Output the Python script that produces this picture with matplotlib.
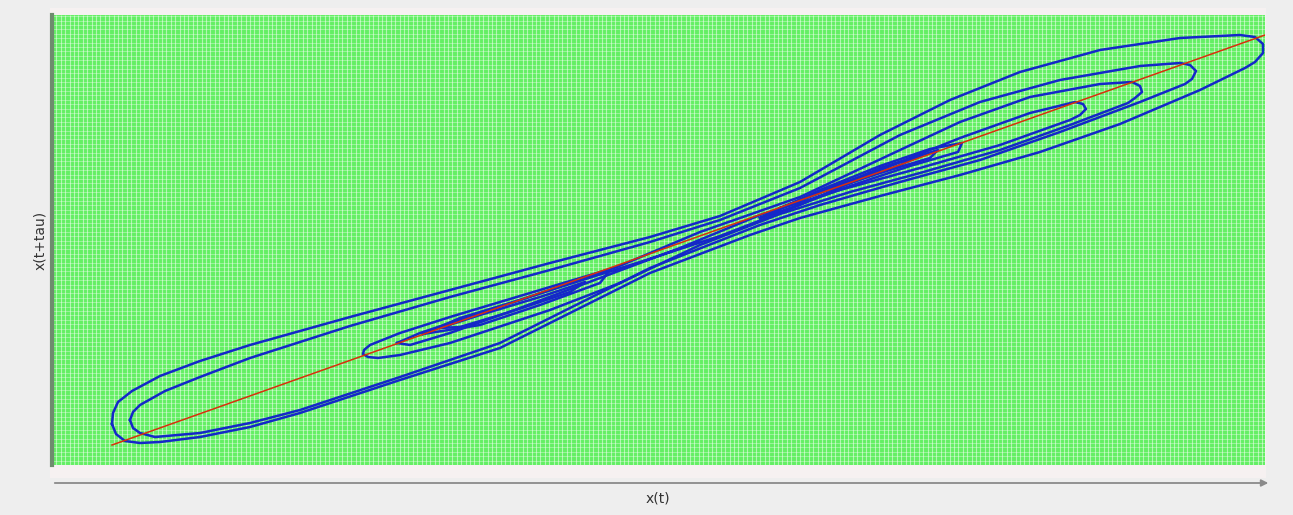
# Delay embedding plot: x(t) vs x(t+tau)

import numpy as np
import matplotlib.pyplot as plt
from matplotlib.patches import Rectangle

# diagonal x(t+tau) = x(t)
diag_x = [11.2, 126.5]
diag_y = [3.5, 44.5]

# trajectory loops (x(t), x(t+tau))
loop1_x = [11.2, 11.3, 11.8, 13.2, 16.0, 20.0, 25.0, 30.0, 35.0, 45.0, 55.0, 65.0, 72.0, 80.0, 88.0,
           95.0, 102.0, 110.0, 118.0, 124.0, 125.5, 126.3, 126.3, 125.5, 124.5, 120.0, 112.0, 104.0,
           96.0, 88.0, 80.0, 75.0, 65.0, 55.0, 50.0, 40.0, 30.0, 25.0, 20.0, 16.0, 14.0, 12.5, 11.6, 11.2]
loop1_y = [5.6, 6.7, 7.8, 8.9, 10.4, 11.9, 13.5, 14.9, 16.3, 19.0, 21.7, 24.3, 26.4, 29.8, 34.5,
           38.0, 40.8, 43.0, 44.2, 44.5, 44.3, 43.6, 42.7, 41.8, 41.2, 39.0, 35.6, 32.8,
           30.5, 28.4, 26.2, 24.5, 20.7, 15.7, 13.2, 10.0, 6.7, 5.3, 4.3, 3.8, 3.7, 3.9, 4.6, 5.6]

loop2_x = [13.0, 13.3, 14.0, 16.5, 20.0, 25.0, 30.0, 35.0, 45.0, 55.0, 65.0, 72.0, 80.0, 90.0, 98.0,
           106.0, 114.0, 118.0, 119.0, 119.6, 119.2, 118.5, 114.0, 106.0, 98.0, 90.0, 82.0, 76.0,
           65.0, 55.0, 50.0, 40.0, 30.0, 25.0, 20.0, 15.5, 14.0, 13.3, 13.0]
loop2_y = [6.0, 6.8, 7.5, 8.9, 10.3, 12.2, 13.8, 15.4, 18.3, 21.0, 23.8, 26.0, 29.2, 34.5, 37.8,
           40.0, 41.4, 41.7, 41.5, 40.9, 40.1, 39.6, 37.8, 34.8, 32.0, 29.8, 27.5, 25.5,
           21.2, 16.2, 13.7, 10.3, 7.0, 5.7, 4.7, 4.3, 4.7, 5.2, 6.0]

loop3_x = [62.0, 70.0, 78.0, 85.0, 92.0, 100.0, 107.0, 112.8, 113.5, 114.2, 114.0, 113.2, 110.0,
           103.0, 96.0, 90.0, 80.0, 70.0, 61.7, 55.0, 45.0, 40.0, 37.0, 36.4, 36.3, 36.8, 37.8,
           40.0, 45.0, 55.0, 62.0]
loop3_y = [19.7, 23.5, 26.6, 28.8, 30.7, 33.0, 35.5, 37.7, 38.2, 38.8, 39.4, 39.8, 39.6,
           38.3, 35.8, 33.0, 28.3, 24.8, 21.3, 19.3, 16.3, 14.7, 13.5, 13.0, 12.6, 12.3, 12.2,
           12.5, 13.7, 17.0, 19.7]

loop4_x = [39.7, 42.0, 48.0, 56.0, 64.0, 72.0, 80.0, 88.0, 96.0, 103.0, 107.5, 108.3, 108.6, 108.0,
           107.0, 100.0, 92.0, 84.0, 76.0, 68.0, 60.0, 52.0, 45.0, 41.0, 39.7]
loop4_y = [13.7, 14.7, 16.7, 19.3, 21.8, 24.4, 27.5, 31.0, 34.2, 36.7, 37.8, 37.6, 37.1, 36.5,
           36.0, 33.5, 31.2, 29.0, 26.5, 23.2, 20.2, 17.2, 14.7, 13.5, 13.7]

small_left1_x = [42.3, 46.0, 52.0, 58.0, 61.0, 60.0, 54.0, 48.0, 42.3]
small_left1_y = [14.6, 16.2, 18.0, 20.0, 21.0, 19.7, 17.5, 15.5, 14.6]
small_left2_x = [44.0, 48.0, 54.0, 58.5, 57.0, 51.0, 46.0, 44.0]
small_left2_y = [15.2, 16.5, 18.3, 19.8, 18.8, 16.8, 15.3, 15.2]

small_right1_x = [76.0, 82.0, 88.0, 93.0, 96.2, 95.8, 91.0, 85.0, 79.0, 76.0]
small_right1_y = [26.2, 29.0, 31.4, 33.1, 33.7, 32.8, 31.4, 29.4, 27.2, 26.2]
small_right2_x = [78.0, 84.0, 90.0, 93.8, 93.0, 88.0, 82.0, 78.0]
small_right2_y = [27.2, 29.6, 31.8, 33.0, 32.2, 30.7, 28.7, 27.2]
small_right3_x = [83.0, 88.0, 92.2, 90.0, 85.0, 83.0]
small_right3_y = [29.0, 31.2, 32.5, 31.5, 29.7, 29.0]

loops = [(loop1_x, loop1_y), (loop2_x, loop2_y), (loop3_x, loop3_y), (loop4_x, loop4_y),
         (small_left1_x, small_left1_y), (small_left2_x, small_left2_y),
         (small_right1_x, small_right1_y), (small_right2_x, small_right2_y),
         (small_right3_x, small_right3_y)]

fig = plt.figure(figsize=(12.93, 5.15), dpi=100, facecolor='#eeeeee')

# pale strip behind the plot area
fig.patches.append(Rectangle((50 / 1293, (515 - 478) / 515), 1216 / 1293, 470 / 515,
                             transform=fig.transFigure, facecolor='#f6f1f1',
                             edgecolor='none', zorder=-5))

ax = fig.add_axes([52 / 1293, 50 / 515, 1213 / 1293, 450 / 515])
ax.set_zorder(2)
ax.set_facecolor('#64ef64')
ax.set_xlim(5.2, 126.5)
ax.set_ylim(1.5, 46.5)

# dotted-looking background grid
step = 0.44
ax.vlines(np.arange(5.2, 126.5, step), 1.5, 46.5, colors='white', linewidth=0.8, alpha=0.5, zorder=0.5)
ax.hlines(np.arange(1.5, 46.5, step), 5.2, 126.5, colors='white', linewidth=0.6, alpha=0.4, zorder=0.5)

for lx, ly in loops:
    ax.plot(lx, ly, color='#1428c8', linewidth=1.8, solid_joinstyle='round', zorder=2)

ax.plot(diag_x, diag_y, color='#d8300c', linewidth=1.1, zorder=3)

for side in ['top', 'right', 'bottom']:
    ax.spines[side].set_visible(False)
ax.spines['left'].set_color('#6e8c6e')
ax.spines['left'].set_linewidth(3)
ax.set_xticks([])
ax.set_yticks([])

# x axis arrow below the plot
ax.annotate('', xy=(1.005, -0.04), xytext=(0.0, -0.04), xycoords='axes fraction',
            arrowprops=dict(arrowstyle='-|>', color='#8a8a8a', lw=1.3, mutation_scale=10))

fig.text(658 / 1293, 1 - 498 / 515, 'x(t)', ha='center', va='center', fontsize=10, color='#333333')
fig.text(40 / 1293, 1 - 240 / 515, 'x(t+tau)', ha='center', va='center', rotation=90,
         fontsize=10, color='#333333')

fig.savefig('out.png', dpi=100, facecolor=fig.get_facecolor())
